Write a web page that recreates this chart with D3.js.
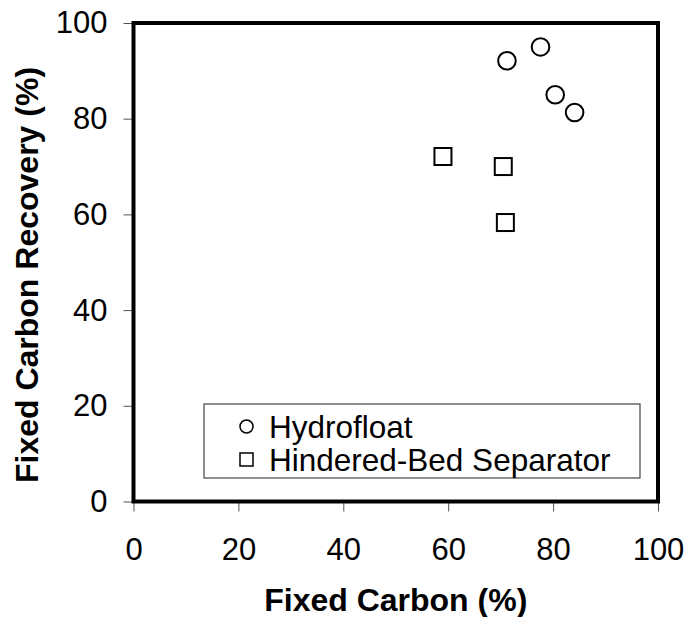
<!DOCTYPE html>
<html>
<head>
  <meta charset="utf-8">
  <script src="https://d3js.org/d3.v7.min.js"></script>
  <style type="text/css">
body { margin: 0; background: #fff; }
svg { display: block; font-family: Arial, "Liberation Sans", sans-serif; }
.tick-label { font-size: 31px; fill: #000; }
.axis-title { font-size: 32px; font-weight: bold; fill: #000; }
.legend-text { font-size: 31.5px; fill: #000; }
  </style>
</head>
<body>
<script type="text/javascript">
// values
var hydroX = [71.2, 77.6, 80.4, 84.1];
var hydroY = [92.1, 95.0, 85.0, 81.3];
var hbsX = [59.0, 70.5, 70.9];
var hbsY = [72.1, 70.0, 58.3];
var xTicks = [0, 20, 40, 60, 80, 100];
var yTicks = [0, 20, 40, 60, 80, 100];
var seriesNames = ["Hydrofloat", "Hindered-Bed Separator"];

var W = 686, H = 617;
var margin = {top: 23, right: 28, bottom: 115.5, left: 133.5};
var width = W - margin.left - margin.right,
    height = H - margin.top - margin.bottom;

var svg = d3.select("body").append("svg")
  .attr("width", W)
  .attr("height", H);

var x = d3.scaleLinear().domain([0, 100]).range([0, width]);
var y = d3.scaleLinear().domain([0, 100]).range([height, 0]);

var g = svg.append("g")
  .attr("transform", "translate(" + margin.left + "," + margin.top + ")");

// x axis
var xAxis = g.append("g")
  .attr("transform", "translate(0," + height + ")")
  .call(d3.axisBottom(x).tickValues(xTicks).tickSize(10).tickPadding(26));
xAxis.select(".domain").remove();
xAxis.selectAll(".tick line").attr("stroke", "#555").attr("stroke-width", 1);
xAxis.selectAll(".tick text").attr("class", "tick-label").attr("font-size", null).attr("font-family", null);

// y axis
var yAxis = g.append("g")
  .call(d3.axisLeft(y).tickValues(yTicks).tickSize(10).tickPadding(16));
yAxis.select(".domain").remove();
yAxis.selectAll(".tick line").attr("stroke", "#555").attr("stroke-width", 1);
yAxis.selectAll(".tick text").attr("class", "tick-label").attr("font-size", null).attr("font-family", null);

// frame
g.append("rect")
  .attr("x", 0).attr("y", 0)
  .attr("width", width).attr("height", height)
  .attr("fill", "none")
  .attr("stroke", "#000")
  .attr("stroke-width", 4);

// points
var hydro = hydroX.map(function(d, i) { return {x: d, y: hydroY[i]}; });
var hbs = hbsX.map(function(d, i) { return {x: d, y: hbsY[i]}; });

g.selectAll(".hydro")
  .data(hydro)
  .enter().append("circle")
  .attr("class", "hydro")
  .attr("cx", function(d) { return x(d.x); })
  .attr("cy", function(d) { return y(d.y); })
  .attr("r", 8.8)
  .attr("fill", "none")
  .attr("stroke", "#000")
  .attr("stroke-width", 2);

var sq = 17;
g.selectAll(".hbs")
  .data(hbs)
  .enter().append("rect")
  .attr("class", "hbs")
  .attr("x", function(d) { return x(d.x) - sq / 2; })
  .attr("y", function(d) { return y(d.y) - sq / 2; })
  .attr("width", sq)
  .attr("height", sq)
  .attr("fill", "none")
  .attr("stroke", "#000")
  .attr("stroke-width", 2);

// legend
var legend = svg.append("g").attr("transform", "translate(204,404)");
legend.append("rect")
  .attr("width", 436).attr("height", 74)
  .attr("fill", "#fff")
  .attr("stroke", "#444")
  .attr("stroke-width", 1.2);

var rows = legend.selectAll(".legend-row")
  .data(seriesNames)
  .enter().append("g")
  .attr("class", "legend-row")
  .attr("transform", function(d, i) { return "translate(0," + (22.5 + i * 33) + ")"; });

rows.filter(function(d, i) { return i === 0; })
  .append("circle")
  .attr("cx", 42.5).attr("cy", 0).attr("r", 6.5)
  .attr("fill", "none").attr("stroke", "#000").attr("stroke-width", 1.5);

rows.filter(function(d, i) { return i === 1; })
  .append("rect")
  .attr("x", 36).attr("y", -6.5).attr("width", 13).attr("height", 13)
  .attr("fill", "none").attr("stroke", "#000").attr("stroke-width", 1.5);

rows.append("text")
  .attr("class", "legend-text")
  .attr("x", 65)
  .attr("y", 11)
  .text(function(d) { return d; });

// axis titles
svg.append("text")
  .attr("class", "axis-title")
  .attr("x", margin.left + width / 2)
  .attr("y", 611)
  .attr("text-anchor", "middle")
  .text("Fixed Carbon (%)");

svg.append("text")
  .attr("class", "axis-title")
  .attr("transform", "translate(37.5,275) rotate(-90)")
  .attr("text-anchor", "middle")
  .text("Fixed Carbon Recovery (%)");
</script>
</body>
</html>
